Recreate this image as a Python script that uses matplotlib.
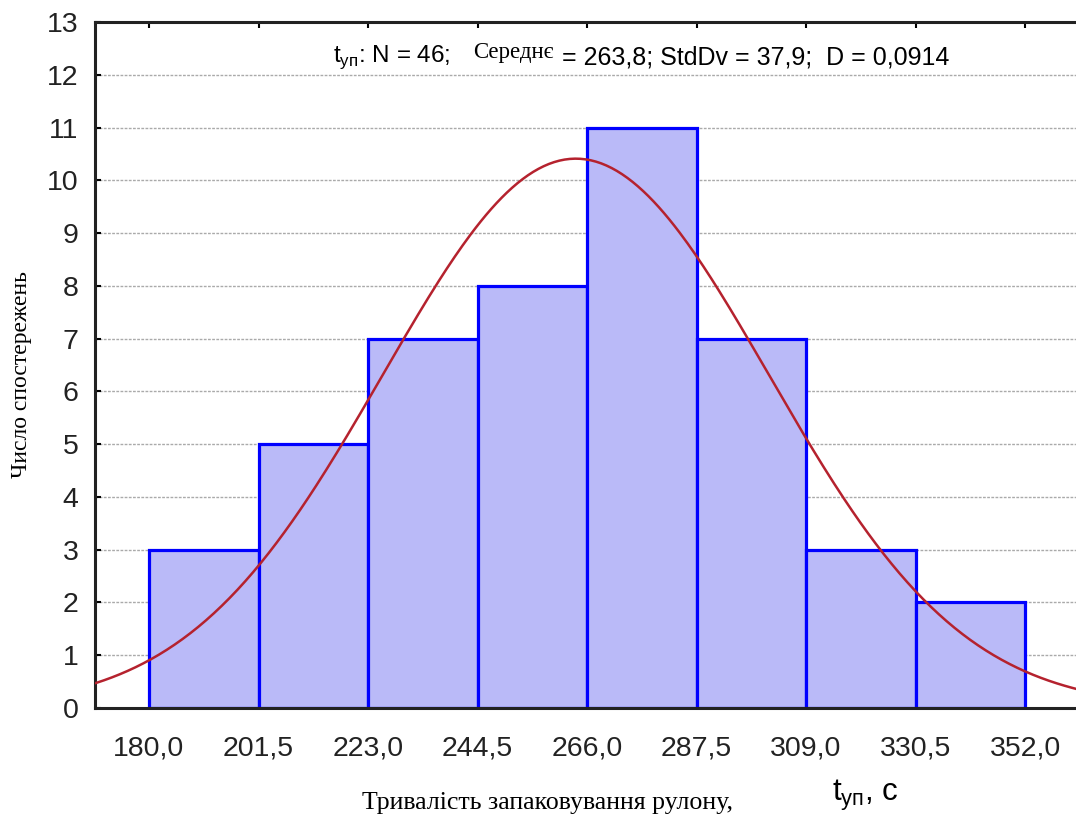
import matplotlib.pyplot as plt
import numpy as np

# histogram data
bin_edges = [180.0, 201.5, 223.0, 244.5, 266.0, 287.5, 309.0, 330.5, 352.0]
counts = [3, 5, 7, 8, 11, 7, 3, 2]
n_obs = 46
mean_val = 263.8
std_val = 37.9
d_stat = 0.0914

fig = plt.figure(figsize=(10.76, 8.18), dpi=100)
ax = fig.add_axes([95/1076, 1 - 708/818, 1 - 95/1076, (708 - 22)/818])

width = bin_edges[1] - bin_edges[0]
ax.bar(bin_edges[:-1], counts, width=width, align='edge',
       color='#babaf8', edgecolor='#0000ff', linewidth=2.3, zorder=2)

# fitted normal curve, scaled to counts
xs = np.linspace(165, 370, 400)
ys = n_obs * width / (std_val * np.sqrt(2 * np.pi)) * np.exp(-0.5 * ((xs - mean_val) / std_val) ** 2)
ax.plot(xs, ys, color='#b5222e', linewidth=1.8, zorder=3)

ax.set_xlim(169.4, 362.0)
ax.set_ylim(0, 13)
ax.set_yticks(range(0, 14))
ax.set_xticks(bin_edges)
ax.set_xticklabels([f"{v:.1f}".replace('.', ',') for v in bin_edges])
ax.grid(axis='y', color='#aaaaaa', linestyle=(0, (2, 1)), linewidth=1.0, zorder=0)
ax.set_axisbelow(True)

for lab in ax.get_xticklabels() + ax.get_yticklabels():
    lab.set_fontfamily('Liberation Sans')
    lab.set_fontsize(20.5)
    lab.set_color('#222222')
ax.tick_params(axis='y', direction='in', length=4, width=1.5, pad=12)
ax.tick_params(axis='x', direction='in', length=4, width=1.5, pad=20,
               top=True, bottom=False)

ax.spines['right'].set_visible(False)
for s in ['left', 'top', 'bottom']:
    ax.spines[s].set_linewidth(2.2)
    ax.spines[s].set_color('#222222')

# header text with statistics
ty = 1 - 57/818
fig.text(333/1076, ty, r't$_{\mathregular{уп}}$: N = ' + str(n_obs) + ';', fontsize=17.5,
         family='Liberation Sans', va='center', ha='left')
fig.text(473/1076, ty + 0.005, 'Середнє', fontsize=16.5, family='Liberation Serif',
         va='center', ha='left')
stats = f"= {mean_val:.1f}; StdDv = {std_val:.1f};  D = {d_stat:.4f}".replace('.', ',')
fig.text(562/1076, ty, stats, fontsize=18, family='Liberation Sans', va='center', ha='left')

# axis labels
fig.text(22/1076, 1 - 375/818, 'Число спостережень', rotation=90, fontsize=17,
         family='Liberation Serif', va='center', ha='center')
fig.text(362/1076, 1 - 803/818, 'Тривалість запаковування рулону,', fontsize=18.6,
         family='Liberation Serif', va='center', ha='left')
fig.text(832/1076, 1 - 795/818, r't$_{\mathregular{уп}}$, с', fontsize=22.5,
         family='Liberation Sans', va='center', ha='left')

fig.savefig('out.png', dpi=100)
